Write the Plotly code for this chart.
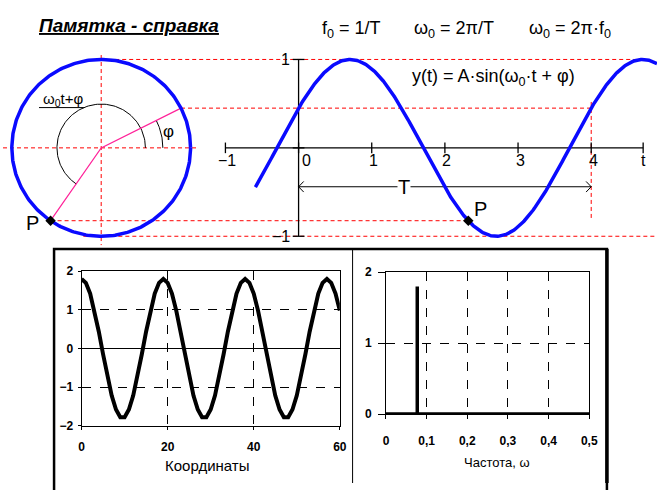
import numpy as np
import plotly.graph_objects as go

# ---------------- harmonic oscillation  y(t) = A*sin(w0*t + phi) ----------------
A = 1.0            # amplitude (radius of the phasor circle)
T = 4.0            # period
phi = 0.466        # initial phase, rad
t_P = 2.32         # time of the marked point P
t_first = -0.59    # where the drawn curve starts
t_ticks = [-1, 0, 1, 2, 3, 4]
t_tick_labels = ["\u22121", "0", "1", "2", "3", "4"]
t_axis_end = 4.71
t_axis_label = "t"
y_ticks = [1, 0, -1]
y_tick_labels = ["1", "", "\u22121"]

# ---------------- sampled signal (bottom-left panel) ----------------
coord = list(range(61))
signal = [
    1.80, 1.70, 1.42, 0.98, 0.44, -0.15, -0.72, -1.22, -1.58, -1.78,
    -1.78, -1.58, -1.22, -0.72, -0.15, 0.44, 0.98, 1.42, 1.70,
    1.80, 1.70, 1.42, 0.98, 0.44, -0.15, -0.72, -1.22, -1.58, -1.78,
    -1.78, -1.58, -1.22, -0.72, -0.15, 0.44, 0.98, 1.42, 1.70,
    1.80, 1.70, 1.42, 0.98, 0.44, -0.15, -0.72, -1.22, -1.58, -1.78,
    -1.78, -1.58, -1.22, -0.72, -0.15, 0.44, 0.98, 1.42, 1.70,
    1.80, 1.70, 1.42, 0.98,
]
coord_ticks = [0, 20, 40, 60]
signal_ticks = [-2, -1, 0, 1, 2]

# ---------------- amplitude spectrum (bottom-right panel) ----------------
spec_freq = [0.0, 0.077, 0.077, 0.077, 0.5]
spec_amp = [0.0, 0.0, 1.8, 0.0, 0.0]
freq_ticks = [0, 0.1, 0.2, 0.3, 0.4, 0.5]
freq_tick_labels = ["0", "0,1", "0,2", "0,3", "0,4", "0,5"]
amp_ticks = [0, 1, 2]

# ---------------- page geometry ----------------
W, H = 666, 490
ORIGIN_X, ORIGIN_Y = 301, 145      # pixel position of t=0, y=0
PX_T, PX_Y = 74.5, 91.0            # pixels per unit of t and of y
t_range = [-ORIGIN_X / PX_T, (W - ORIGIN_X) / PX_T]
y_range = [-(H - ORIGIN_Y) / PX_Y, ORIGIN_Y / PX_Y]
k = PX_Y / PX_T                    # stretch so the circle stays round
cx = (100 - ORIGIN_X) / PX_T       # circle centre on the t scale

FONT = "Liberation Sans, Arial, sans-serif"
RED, BLUE, PINK = "#ff0000", "#0a0aff", "#ff2299"


def px(x):
    return x / W


def py(y):
    return 1 - y / H


w0 = 2 * np.pi / T
theta_P = w0 * t_P + phi
y_P = A * np.sin(theta_P)
t_peak2 = (np.pi / 2 - phi) / w0 + T


def cpt(theta, r=A):
    """point on a circle of radius r around the phasor centre"""
    return cx + r * k * np.cos(theta), r * np.sin(theta)


fig = go.Figure()
top = dict(xaxis="x", yaxis="y", showlegend=False, hoverinfo="skip")

# red dashed projection lines
seg = [
    ((cx, A), (t_peak2, A)),
    (cpt(phi), (T, A * np.sin(phi))),
    ((t_range[0], 0), (cx + 1.07 * A * k, 0)),
    (cpt(theta_P), (t_P, y_P)),
    ((cx - 0.2 * A * k, -A), (t_range[1], -A)),
    ((cx, 1.05 * A), (cx, -1.1 * A)),
    ((T, A * np.sin(phi) + 0.07), (T, y_P)),
]
xs, ys = [], []
for (x0, y0), (x1, y1) in seg:
    xs += [x0, x1, None]
    ys += [y0, y1, None]
fig.add_trace(go.Scatter(x=xs, y=ys, mode="lines",
                         line=dict(color=RED, width=1, dash="4px,3px"), **top))

# time axis and amplitude axis with their ticks
ax_x = [-1, t_axis_end, None, 0, 0, None]
ax_y = [0, 0, None, -A, A, None]
for tv in t_ticks + [t_axis_end]:
    ax_x += [tv, tv, None]
    ax_y += [-0.06, 0.06, None]
for yv in y_ticks:
    ax_x += [-0.08, 0.08, None]
    ax_y += [yv, yv, None]
fig.add_trace(go.Scatter(x=ax_x, y=ax_y, mode="lines",
                         line=dict(color="black", width=1.3), **top))

# period arrow T
ah_dx, ah_dy = 0.07, 0.06
arr_y = -0.44
arr_x = [0, T, None, ah_dx, 0, ah_dx, None, T - ah_dx, T, T - ah_dx]
arr_yv = [arr_y, arr_y, None, arr_y + ah_dy, arr_y, arr_y - ah_dy, None,
          arr_y + ah_dy, arr_y, arr_y - ah_dy]
fig.add_trace(go.Scatter(x=arr_x, y=arr_yv, mode="lines",
                         line=dict(color="black", width=1), **top))

# phase arcs
th_big = np.linspace(0, theta_P, 120)
bx, by = cpt(th_big, 0.495)
fig.add_trace(go.Scatter(x=bx, y=by, mode="lines",
                         line=dict(color="black", width=1), **top))
th_small = np.linspace(0, phi, 30)
sx, sy = cpt(th_small, 0.69)
fig.add_trace(go.Scatter(x=sx, y=sy, mode="lines",
                         line=dict(color="black", width=1), **top))
lx, ly = cpt(np.radians(113), 0.495)
fig.add_trace(go.Scatter(x=[cx - 0.85, lx], y=[ly, ly], mode="lines",
                         line=dict(color="black", width=1), **top))

# radius vectors
p1 = cpt(phi)
p2 = cpt(theta_P)
fig.add_trace(go.Scatter(x=[p1[0], cx, p2[0]], y=[p1[1], 0, p2[1]], mode="lines",
                         line=dict(color=PINK, width=1.2), **top))

# phasor circle
th = np.linspace(0, 2 * np.pi, 361)
ccx, ccy = cpt(th)
fig.add_trace(go.Scatter(x=ccx, y=ccy, mode="lines",
                         line=dict(color=BLUE, width=3.5), **top))

# sine curve
tt = np.linspace(t_first, t_range[1], 400)
fig.add_trace(go.Scatter(x=tt, y=A * np.sin(w0 * tt + phi), mode="lines",
                         line=dict(color=BLUE, width=3.5), **top))

# point P on both
fig.add_trace(go.Scatter(x=[p2[0], t_P], y=[p2[1], y_P], mode="markers",
                         marker=dict(symbol="diamond", size=8, color="black"), **top))

# ---------------- bottom-left: signal ----------------
fig.add_trace(go.Scatter(x=coord, y=signal, mode="lines", xaxis="x2", yaxis="y2",
                         line=dict(color="black", width=4), showlegend=False))

# ---------------- bottom-right: spectrum ----------------
fig.add_trace(go.Scatter(x=spec_freq, y=spec_amp, mode="lines", xaxis="x3", yaxis="y3",
                         line=dict(color="black", width=3.5), showlegend=False,
                         cliponaxis=False))

# ---------------- annotations ----------------
ann = []


def text(x, y, s, size, ref="paper", **kw):
    d = dict(x=x, y=y, text=s, showarrow=False, xanchor="center", yanchor="middle",
             font=dict(family=FONT, size=size, color="black"),
             xref="paper" if ref == "paper" else "x", yref="paper" if ref == "paper" else "y")
    d.update(kw)
    ann.append(d)


text(px(128), py(19), "<b><i><u>Памятка - справка</u></i></b>", 19)
text(px(355), py(23), "f<sub>0</sub> = 1/T", 18)
text(px(459), py(23), "\u03c9<sub>0</sub> = 2\u03c0/T", 18)
text(px(577), py(23), "\u03c9<sub>0</sub> = 2\u03c0\u00b7f<sub>0</sub>", 18)
text(px(500), py(73), "y(t) = A\u00b7sin(\u03c9<sub>0</sub>\u00b7t + \u03c6)", 18)

for tv, lab in zip(t_ticks, t_tick_labels):
    text(tv, -0.145, lab, 16, ref="data", xshift=8 if tv == 0 else 2)
text(t_axis_end, -0.145, t_axis_label, 16, ref="data")
for yv, lab in zip(y_ticks, y_tick_labels):
    if lab:
        text(0, yv, lab, 16, ref="data", xanchor="right", xshift=-7)

text(T * 0.36, arr_y, "T", 20, ref="data", bgcolor="white", borderpad=0)
text(p2[0], p2[1], "P", 20, ref="data", xshift=-18, yshift=-2)
text(t_P, y_P, "P", 20, ref="data", xshift=12, yshift=12)
text(cx - 0.52, 0.55, "\u03c9<sub>0</sub>t+\u03c6", 15, ref="data")
text(cx + 0.92, 0.19, "\u03c6", 17, ref="data")

text(px(208), py(472), "Координаты", 15)
text(px(503), py(469), "Частота, \u03c9", 13)

# ---------------- panel frame ----------------
shapes = [
    dict(type="rect", xref="paper", yref="paper", x0=px(52), x1=px(615), y0=py(500), y1=py(249),
         line=dict(color="black", width=2.5)),
    dict(type="line", xref="paper", yref="paper", x0=px(356), x1=px(356), y0=py(249), y1=py(490),
         line=dict(color="black", width=1)),
    dict(type="line", xref="paper", yref="paper", x0=px(615), x1=px(615), y0=py(249), y1=py(490),
         line=dict(color="black", width=3.5)),
]

tickfont = dict(family=FONT, size=12, color="black", weight="bold")
box = dict(showline=True, mirror=True, linecolor="black", linewidth=1, showgrid=True,
           gridcolor="black", griddash="dash", gridwidth=1, ticks="outside", ticklen=3,
           tickcolor="black", tickfont=tickfont, fixedrange=True, zeroline=False)

fig.update_layout(
    width=W, height=H, margin=dict(l=0, r=0, t=0, b=0),
    paper_bgcolor="white", plot_bgcolor="rgba(0,0,0,0)",
    annotations=ann, shapes=shapes,
    xaxis=dict(domain=[0, 1], range=t_range, visible=False, fixedrange=True),
    yaxis=dict(domain=[0, 1], range=y_range, visible=False, fixedrange=True),
    xaxis2=dict(box, domain=[px(80), px(343)], range=[0, 60], tickvals=coord_ticks,
                anchor="y2", ticklabelstandoff=7),
    yaxis2=dict(box, domain=[py(431), py(272)], range=[-2, 2], tickvals=signal_ticks,
                anchor="x2", zeroline=True, zerolinecolor="black", zerolinewidth=1,
                ticklabelstandoff=2),
    xaxis3=dict(box, domain=[px(390), px(597)], range=[0, 0.5], tickvals=freq_ticks,
                ticktext=freq_tick_labels, anchor="y3", ticklabelstandoff=12, ticklen=4),
    yaxis3=dict(box, domain=[py(419), py(273)], range=[0, 2], tickvals=amp_ticks,
                anchor="x3", ticklen=7, ticklabelstandoff=4),
)

fig.write_html("out.html")
